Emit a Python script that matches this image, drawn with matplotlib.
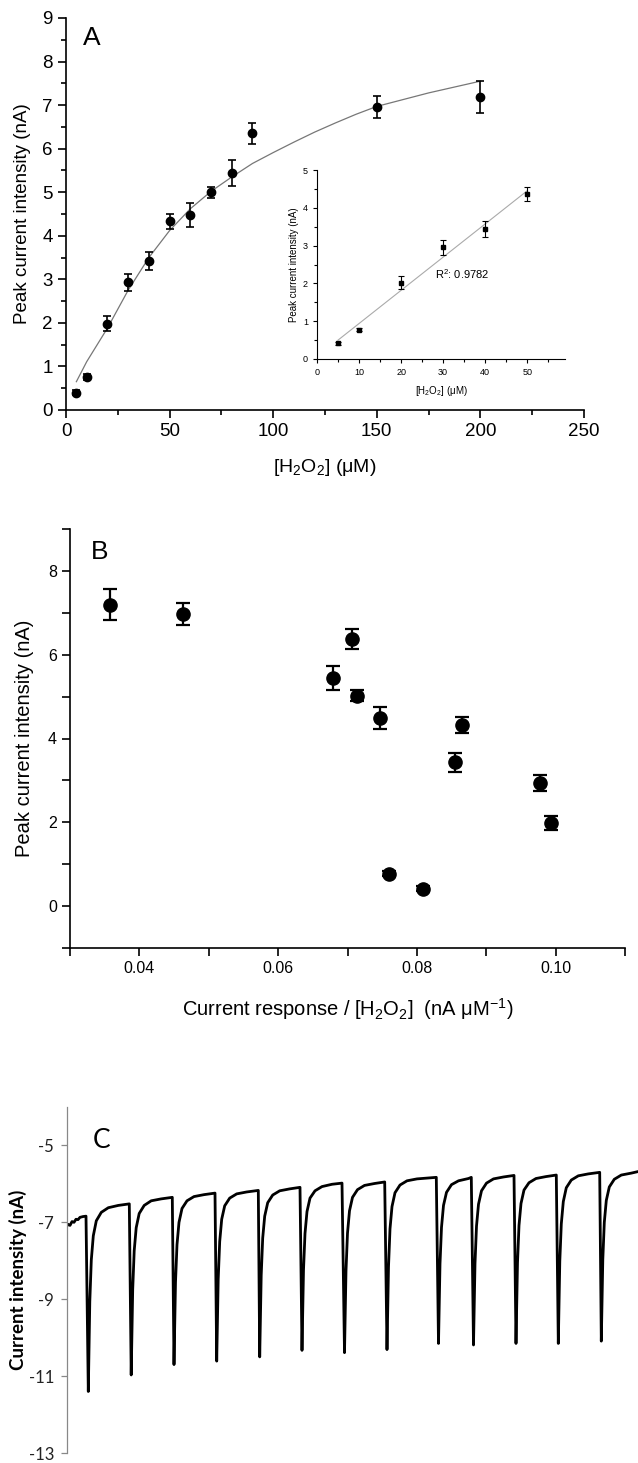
import matplotlib
matplotlib.use("Agg")
import matplotlib.pyplot as plt
from matplotlib.ticker import MultipleLocator
import numpy as np

plt.rcParams['font.family'] = ['Liberation Sans', 'DejaVu Sans']
plt.rcParams['mathtext.default'] = 'regular'

# Panel A: peak current vs [H2O2]
conc_uM = [5, 10, 20, 30, 40, 50, 60, 70, 80, 90, 150, 200]
peak_nA = [0.40, 0.76, 1.98, 2.93, 3.42, 4.33, 4.48, 5.00, 5.44, 6.35, 6.96, 7.18]
peak_err = [0.05, 0.06, 0.17, 0.19, 0.21, 0.18, 0.27, 0.13, 0.29, 0.24, 0.26, 0.37]

# fitted saturation curve
fit_x = [5, 10, 20, 30, 40, 50, 60, 70, 80, 90, 100, 110, 120, 130, 140, 150, 175, 200]
fit_y = [0.65, 1.11, 1.88, 2.75, 3.50, 4.12, 4.62, 5.02, 5.35, 5.66, 5.91, 6.15, 6.38,
         6.59, 6.79, 6.97, 7.28, 7.55]

# inset: linear range
lin_x = [5, 10, 20, 30, 40, 50]
lin_y = [0.42, 0.78, 2.02, 2.95, 3.44, 4.36]
lin_err = [0.04, 0.04, 0.17, 0.19, 0.21, 0.18]

# Panel B: peak current vs sensitivity
sens = [0.0358, 0.0463, 0.0679, 0.0706, 0.0714, 0.0747, 0.0760, 0.0809, 0.0855, 0.0865, 0.0977, 0.0993]
sens_peak = [7.19, 6.97, 5.45, 6.37, 5.02, 4.49, 0.77, 0.41, 3.43, 4.32, 2.94, 1.99]
sens_err = [0.37, 0.27, 0.29, 0.24, 0.13, 0.27, 0.06, 0.06, 0.22, 0.19, 0.20, 0.17]

# Panel C: amperometric trace (time in arbitrary units, current in nA)
trace_t = [
    66.7, 68, 70, 72, 74, 76, 78, 80, 83, 86,
    88.3, 89.8, 91.3, 93.3, 96.3, 101.3, 108.3, 118.3, 129.3,
    131.2, 132.7, 134.2, 136.2, 139.2, 144.2, 151.2, 161.2, 172.3,
    174, 175.5, 177, 179, 182, 187, 194, 204, 215,
    216.7, 218.2, 219.7, 221.7, 224.7, 229.7, 236.7, 246.7, 258.3,
    259.7, 261.2, 262.7, 264.7, 267.7, 272.7, 279.7, 289.7, 300,
    302, 303.5, 305, 307, 310, 315, 322, 332, 342,
    344.5, 346, 347.5, 349.5, 352.5, 357.5, 364.5, 374.5, 384.7,
    387, 388.5, 390, 392, 395, 400, 407, 417, 436.3,
    438.5, 440, 441.5, 443.5, 446.5, 451.5, 458.5, 468.5, 471.3,
    473.5, 475, 476.5, 478.5, 481.5, 486.5, 493.5, 503.5, 514,
    516, 517.5, 519, 521, 524, 529, 536, 546, 556.3,
    558.3, 559.8, 561.3, 563.3, 566.3, 571.3, 578.3, 588.3, 599.7,
    601.3, 602.8, 604.3, 606.3, 609.3, 614.3, 621.3, 631.3, 638,
]
trace_i = [
    -7.10, -7.05, -7.08, -6.98, -7.00, -6.92, -6.93, -6.87, -6.85, -6.84,
    -11.40, -9.06, -7.98, -7.35, -6.96, -6.74, -6.62, -6.56, -6.52,
    -10.97, -8.75, -7.74, -7.14, -6.77, -6.56, -6.44, -6.39, -6.35,
    -10.70, -8.56, -7.58, -7.00, -6.64, -6.44, -6.33, -6.28, -6.24,
    -10.61, -8.48, -7.50, -6.92, -6.57, -6.37, -6.26, -6.21, -6.17,
    -10.50, -8.38, -7.41, -6.84, -6.49, -6.29, -6.18, -6.13, -6.09,
    -10.33, -8.24, -7.29, -6.72, -6.37, -6.18, -6.07, -6.01, -5.98,
    -10.39, -8.26, -7.28, -6.70, -6.35, -6.15, -6.04, -5.99, -5.95,
    -10.31, -8.16, -7.17, -6.59, -6.23, -6.03, -5.92, -5.87, -5.83,
    -10.15, -8.08, -7.13, -6.56, -6.22, -6.02, -5.92, -5.86, -5.83,
    -10.19, -8.07, -7.10, -6.53, -6.18, -5.98, -5.87, -5.82, -5.78,
    -10.15, -8.05, -7.08, -6.51, -6.16, -5.97, -5.86, -5.81, -5.77,
    -10.15, -8.01, -7.04, -6.46, -6.10, -5.90, -5.79, -5.74, -5.70,
    -10.09, -7.97, -7.00, -6.43, -6.08, -5.88, -5.77, -5.72, -5.68,
]
c_ticks = [-5, -7, -9, -11, -13]

W, H = 638, 1463
fig = plt.figure(figsize=(W / 100, H / 100), dpi=100)


def box(left, top, right, bottom):
    # pixel box -> figure fraction rect
    return [left / W, 1 - bottom / H, (right - left) / W, (bottom - top) / H]


def style(ax, lw=1.2, maj=6, mnr=3.5, size=12):
    for s in ['top', 'right']:
        ax.spines[s].set_visible(False)
    for s in ['left', 'bottom']:
        ax.spines[s].set_linewidth(lw)
    ax.tick_params(which='major', direction='out', length=maj, width=lw, labelsize=size)
    ax.tick_params(which='minor', direction='out', length=mnr, width=lw)


# ---- A ----
axA = fig.add_axes(box(66, 18, 584, 410))
style(axA, size=13.5)
axA.plot(fit_x, fit_y, color='#777777', lw=0.9)
axA.errorbar(conc_uM, peak_nA, yerr=peak_err, fmt='o', color='black', ms=6,
             capsize=3, elinewidth=1.2, capthick=1.2)
axA.set_xlim(0, 250)
axA.set_ylim(0, 9)
axA.xaxis.set_major_locator(MultipleLocator(50))
axA.xaxis.set_minor_locator(MultipleLocator(25))
axA.yaxis.set_major_locator(MultipleLocator(1))
axA.yaxis.set_minor_locator(MultipleLocator(0.5))
axA.set_ylabel('Peak current intensity (nA)', fontsize=13.5, labelpad=8)
axA.set_xlabel('[H$_2$O$_2$] (μM)', fontsize=14, labelpad=12)
fig.text(92 / W, 1 - 38 / H, 'A', fontsize=19, ha='center', va='center')

# inset
axI = fig.add_axes(box(317, 170, 565, 359))
style(axI, lw=0.8, maj=3, mnr=2, size=6.5)
slope, icpt = np.polyfit(lin_x, lin_y, 1)
xs = np.array([lin_x[0], lin_x[-1]])
axI.plot(xs, slope * xs + icpt, color='#aaaaaa', lw=0.8)
axI.errorbar(lin_x, lin_y, yerr=lin_err, fmt='s', color='black', ms=3.5,
             capsize=2, elinewidth=0.8, capthick=0.8)
axI.set_xlim(0, 59)
axI.set_ylim(0, 5)
axI.xaxis.set_major_locator(MultipleLocator(10))
axI.xaxis.set_minor_locator(MultipleLocator(5))
axI.yaxis.set_major_locator(MultipleLocator(1))
axI.yaxis.set_minor_locator(MultipleLocator(0.5))
axI.set_ylabel('Peak current intensity (nA)', fontsize=7, labelpad=3)
axI.set_xlabel('[H$_2$O$_2$] (μM)', fontsize=7, labelpad=5)
axI.text(34.5, 2.25, 'R$^2$: 0.9782', fontsize=8, ha='center', va='center')

# ---- B ----
axB = fig.add_axes(box(70, 529, 625, 948))
style(axB, size=11.5)
axB.errorbar(sens, sens_peak, yerr=sens_err, fmt='o', color='black', ms=9.5,
             capsize=5, elinewidth=1.6, capthick=1.6)
axB.set_xlim(0.03, 0.11)
axB.set_ylim(-1, 9)
axB.xaxis.set_major_locator(MultipleLocator(0.02))
axB.xaxis.set_minor_locator(MultipleLocator(0.01))
axB.yaxis.set_major_locator(MultipleLocator(2))
axB.yaxis.set_minor_locator(MultipleLocator(1))
axB.tick_params(which='minor', length=6)
axB.xaxis.set_major_formatter(matplotlib.ticker.FormatStrFormatter('%.2f'))
axB.set_ylabel('Peak current intensity (nA)', fontsize=14.5, labelpad=10)
axB.set_xlabel('Current response / [H$_2$O$_2$]  (nA μM$^{-1}$)', fontsize=14.5, labelpad=14)
fig.text(100 / W, 1 - 552 / H, 'B', fontsize=19, ha='center', va='center')

# ---- C ----
axC = fig.add_axes(box(66.7, 1107, 638, 1453))
for s in ['top', 'right', 'bottom']:
    axC.spines[s].set_visible(False)
axC.spines['left'].set_color('#888888')
axC.spines['left'].set_linewidth(0.9)
axC.plot(trace_t, trace_i, color='black', lw=2.0, solid_joinstyle='round')
axC.set_xlim(66.7, 638)
axC.set_ylim(-13, -4)
axC.set_xticks([])
axC.set_yticks(c_ticks)
axC.set_yticklabels([str(v) for v in c_ticks], family=['Lato', 'DejaVu Sans'])
axC.tick_params(axis='y', direction='out', length=4, width=0.9, color='#888888',
                labelsize=12, labelcolor='#222222', pad=5)
axC.set_ylabel('Current intensity (nA)', fontsize=13.5, fontweight='bold',
               family=['Lato', 'DejaVu Sans'])
axC.yaxis.set_label_coords(-0.07, 0.5)
fig.text(101.7 / W, 1 - 1141 / H, 'C', fontsize=19, ha='center', va='center',
         family=['Lato', 'DejaVu Sans'])

fig.savefig('out.png', dpi=100, facecolor='white')
